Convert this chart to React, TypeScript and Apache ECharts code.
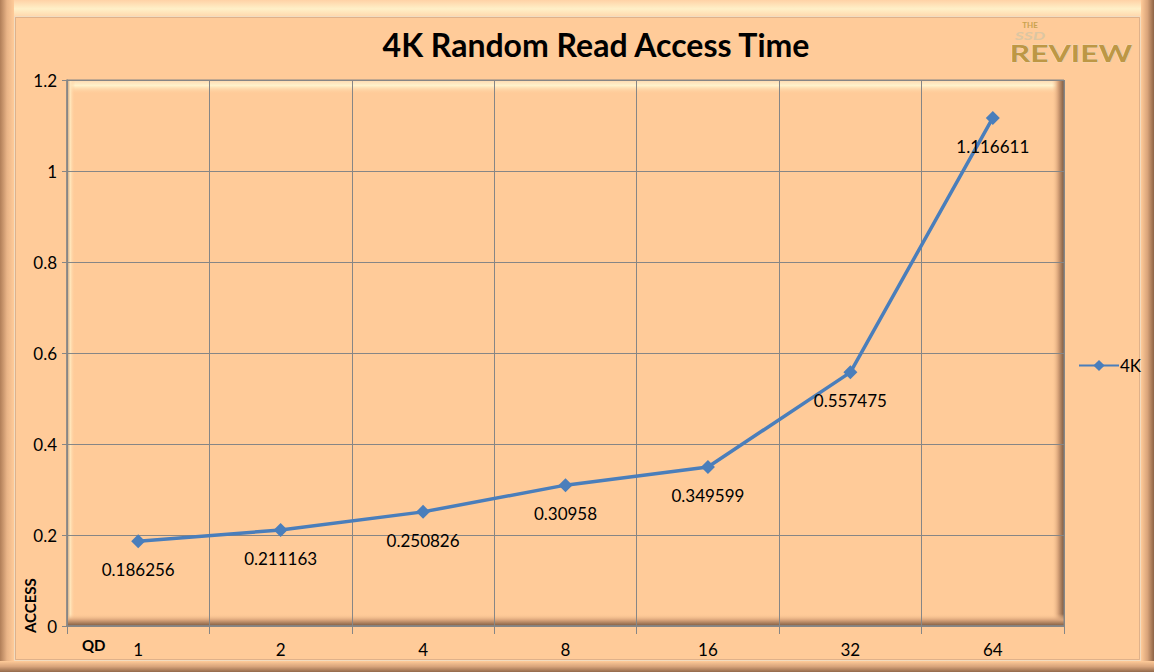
import React, { useEffect, useRef } from "react";
import * as echarts from "echarts";

const categories = ["1", "2", "4", "8", "16", "32", "64"];
const accessTimes = [0.186256, 0.211163, 0.250826, 0.30958, 0.349599, 0.557475, 1.116611];
const seriesName = "4K";
const titleText = "4K Random Read Access Time";
const xAxisName = "QD";
const yAxisName = "ACCESS";

const W = 1154;
const H = 672;
const G = { left: 67, top: 80, right: 1064, bottom: 626 };
const FONT = "Lato, 'Open Sans', sans-serif";
const BG = "#FFCB99";

function lg(x: number, y: number, x2: number, y2: number, stops: [number, string][]) {
  return new echarts.graphic.LinearGradient(x, y, x2, y2, stops.map(([offset, color]) => ({ offset, color })));
}

export default function App() {
  const ref = useRef<HTMLDivElement>(null);
  useEffect(() => {
    if (!ref.current) return;
    const chart = echarts.init(ref.current, undefined, { renderer: "svg" });
    const pw = G.right - G.left;
    const ph = G.bottom - G.top;
    const graphic: any[] = [
      // outer frame bevel
      { type: "rect", z: -100, shape: { x: 0, y: 0, width: W, height: 16 }, style: { fill: lg(0, 0, 0, 1, [[0, "#FFD2A6"], [0.55, "#FFF0C8"], [1, "#FFD9AE"]]) } },
      { type: "rect", z: -100, shape: { x: 0, y: 0, width: 14, height: H }, style: { fill: lg(0, 0, 1, 0, [[0, "#B07E58"], [0.5, "#E9B487"], [1, "#FFCB99"]]) } },
      { type: "rect", z: -100, shape: { x: W - 13, y: 0, width: 13, height: H }, style: { fill: lg(0, 0, 1, 0, [[0, "#FFCB99"], [0.5, "#D9A47A"], [1, "#8E6446"]]) } },
      { type: "rect", z: -100, shape: { x: 0, y: H - 11, width: W, height: 11 }, style: { fill: lg(0, 0, 0, 1, [[0, "#FFCB99"], [0.5, "#D8A47B"], [1, "#93694A"]]) } },
      { type: "rect", z: -99, shape: { x: 14.5, y: 16.5, width: W - 28, height: H - 28 }, style: { fill: "none", stroke: "#F2DCC0", lineWidth: 1 } },
      { type: "rect", z: -99, shape: { x: 15.5, y: 17.5, width: W - 30, height: H - 30 }, style: { fill: "none", stroke: "#C9A080", lineWidth: 0.6 } },
      // plot area bevel
      { type: "rect", z: -50, shape: { x: G.left, y: G.top, width: pw, height: 14 }, style: { fill: lg(0, 0, 0, 1, [[0, "#FFD9AE"], [0.4, "#FFF3CC"], [1, "rgba(255,203,153,0)"]]) } },
      { type: "rect", z: -50, shape: { x: G.left, y: G.top, width: 8, height: ph }, style: { fill: lg(0, 0, 1, 0, [[0, "#C69A74"], [0.4, "#FFE8BE"], [1, "rgba(255,203,153,0)"]]) } },
      { type: "rect", z: -50, shape: { x: G.right - 12, y: G.top, width: 12, height: ph }, style: { fill: lg(0, 0, 1, 0, [[0, "rgba(255,203,153,0)"], [0.5, "#D9A47A"], [1, "#7E5A40"]]) } },
      { type: "rect", z: -50, shape: { x: G.left, y: G.bottom - 12, width: pw, height: 12 }, style: { fill: lg(0, 0, 0, 1, [[0, "rgba(255,203,153,0)"], [0.5, "#D9A47A"], [1, "#7E5A40"]]) } },
      // axis names
      { type: "text", z: 10, x: 82, y: 645, style: { text: xAxisName, font: `bold 15px ${FONT}`, fill: "#000", textVerticalAlign: "middle" } },
      { type: "text", z: 10, x: 30, y: 633, rotation: Math.PI / 2, style: { text: yAxisName, font: `bold 15px ${FONT}`, fill: "#000", textVerticalAlign: "middle" } },
      // logo
      { type: "text", z: 10, x: 1030, y: 21, style: { text: "THE", font: `bold 8px ${FONT}`, fill: "#C9A24E", textAlign: "center", textVerticalAlign: "top" } },
      { type: "text", z: 10, x: 1030, y: 30, scaleX: 1.6, style: { text: "SSD", font: `italic bold 11px ${FONT}`, fill: "#DCC6A2", textAlign: "center", textVerticalAlign: "top" } },
      { type: "text", z: 10, x: 1071, y: 43, scaleX: 1.45, style: { text: "REVIEW", font: `bold 22px ${FONT}`, fill: "#BE9744", stroke: "#E6E0D4", lineWidth: 0.6, textAlign: "center", textVerticalAlign: "top" } },
    ];

    chart.setOption({
      animation: false,
      backgroundColor: BG,
      textStyle: { fontFamily: FONT },
      title: {
        text: titleText,
        left: 591,
        top: 23,
        textAlign: "center",
        textStyle: { fontSize: 32, fontWeight: "bold", color: "#000", fontFamily: FONT },
      },
      legend: {
        data: [seriesName],
        left: 1073,
        top: 352,
        orient: "vertical",
        itemWidth: 40,
        itemHeight: 14,
        itemGap: 4,
        textStyle: { fontSize: 17, color: "#000", fontFamily: FONT, padding: [0, 0, 0, -4] },
      },
      grid: { left: G.left, top: G.top, right: W - G.right, bottom: H - G.bottom, show: true, borderColor: "#868686", borderWidth: 1, backgroundColor: "transparent" },
      xAxis: {
        type: "category",
        data: categories,
        boundaryGap: true,
        axisLine: { lineStyle: { color: "#868686", width: 1.5 } },
        axisTick: { show: true, length: 8, lineStyle: { color: "#868686" } },
        axisLabel: { fontSize: 17, color: "#000", margin: 15, fontFamily: FONT },
        splitLine: { show: true, lineStyle: { color: "#868686", width: 1 } },
      },
      yAxis: {
        type: "value",
        min: 0,
        max: 1.2,
        interval: 0.2,
        axisLine: { show: true, lineStyle: { color: "#868686", width: 1.5 } },
        axisTick: { show: true, length: 5, lineStyle: { color: "#868686" } },
        axisLabel: { fontSize: 17, color: "#000", margin: 10, fontFamily: FONT, formatter: (v: number) => String(Math.round(v * 10) / 10) },
        splitLine: { show: true, lineStyle: { color: "#868686", width: 1 } },
      },
      series: [
        {
          name: seriesName,
          type: "line",
          data: accessTimes,
          symbol: "diamond",
          symbolSize: 14,
          lineStyle: { color: "#4A7EBB", width: 3.5 },
          itemStyle: { color: "#4A7EBB" },
          label: {
            show: true,
            position: "bottom",
            distance: 13,
            fontSize: 17,
            color: "#000",
            fontFamily: FONT,
            formatter: (p: any) => String(p.value),
          },
          z: 5,
        },
      ],
      graphic,
    });
    return () => chart.dispose();
  }, []);
  return <div ref={ref} style={{ position: "fixed", left: 0, top: 0, width: W, height: H }} />;
}
